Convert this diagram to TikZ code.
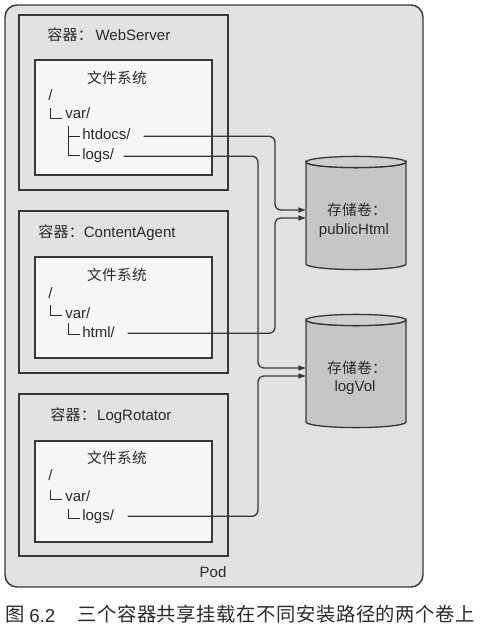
\documentclass[tikz,border=0pt]{standalone}
\usepackage{fontspec}
\setmainfont{Liberation Sans}
\newfontfamily\cjk[LetterSpace=2]{Noto Sans CJK SC}
\newfontfamily\cjkcap[LetterSpace=3]{Noto Sans CJK SC}
\usetikzlibrary{arrows.meta}
\definecolor{podfill}{HTML}{E2E2E2}
\definecolor{fsfill}{HTML}{F6F6F6}
\definecolor{volfill}{HTML}{C6C6C6}
\definecolor{volend}{HTML}{CFCFCF}
\definecolor{ink}{HTML}{383838}
\definecolor{txtc}{HTML}{2A2A2A}
\begin{document}
\begin{tikzpicture}[x=0.75pt,y=-0.75pt,
  lat/.style={font=\fontsize{11.25}{13}\selectfont, text=txtc, inner sep=0pt, anchor=base west},
  ctr/.style={lat, anchor=base},
  pathtxt/.style={lat, text height=7.9pt, text depth=2.25pt},
  cjkt/.style={font=\fontsize{11}{13}\selectfont\cjk, text=txtc, inner sep=0pt, anchor=base},
  podbox/.style={draw=ink, line width=1.1pt, fill=podfill, rounded corners=9pt},
  ctbox/.style={draw=ink, line width=1pt, fill=podfill},
  fsbox/.style={draw=ink, line width=1pt, fill=fsfill},
  treeline/.style={draw=txtc, line width=0.75pt},
  volbox/.style={rectangle, inner sep=0pt, minimum width=75pt, minimum height=85.5pt},
  volbody/.style={draw=ink, line width=1pt, fill=volfill},
  volcap/.style={draw=ink, line width=1pt, fill=volend},
  conn/.style={draw=ink, line width=1pt, rounded corners=4.5pt, -{Triangle[length=5.5pt,width=3.8pt]}}
]
\useasboundingbox[fill=white] (0,0) rectangle (479,630);

% Pod
\draw[podbox] (5,5) rectangle (423,587);
\node[ctr] (podlbl) at (213,577) {Pod};

% Containers
\draw[ctbox] (19,15) rectangle (228,190);
\draw[fsbox] (35,60) rectangle (212,175);
\draw[ctbox] (19,211) rectangle (228,373);
\draw[fsbox] (35,257) rectangle (212,358);
\draw[ctbox] (19,394) rectangle (228,556);
\draw[fsbox] (35,441) rectangle (212,542);

% WebServer
\node[lat] (wst) at (47,40.5) {{\cjk 容器：}\hspace{2pt}WebServer};
\node[cjkt] (wsfs) at (117,83.5) {文件系统};
\node[lat] (wsroot) at (48,101) {/};
\node[lat] (wsvar) at (65,119) {var/};
\node[pathtxt] (wshtdocs) at (82,140) {htdocs/};
\node[pathtxt] (wslogs) at (82,160) {logs/};
\draw[treeline] (50,108) |- (62,119);
\draw[treeline] (68,126) |- (80,156);
\draw[treeline] (68,137) -- (80,137);

% ContentAgent
\node[lat] (cat) at (38,237.5) {{\cjk 容器：}ContentAgent};
\node[cjkt] (cafs) at (117,280.5) {文件系统};
\node[lat] (caroot) at (48,298) {/};
\node[lat] (cavar) at (65,318) {var/};
\node[pathtxt] (cahtml) at (82,337) {html/};
\draw[treeline] (50,305) |- (62,315);
\draw[treeline] (68,323) |- (80,334);

% LogRotator
\node[lat] (lrt) at (50,420.5) {{\cjk 容器：}\hspace{1pt}LogRotator};
\node[cjkt] (lrfs) at (117,463.5) {文件系统};
\node[lat] (lrroot) at (48,480) {/};
\node[lat] (lrvar) at (65,501) {var/};
\node[pathtxt] (lrlogs) at (82,520) {logs/};
\draw[treeline] (50,490) |- (62,499);
\draw[treeline] (68,509) |- (80,518);

% Volumes
\node[volbox] (pubvol) at (356,213) {};
\node[volbox] (logvol) at (356,371) {};
\path[volbody] (306,162) -- (306,264) arc[start angle=180, end angle=360, x radius=37.5pt, y radius=4.2pt]
  -- (406,162) arc[start angle=0, end angle=-180, x radius=37.5pt, y radius=4.2pt] -- cycle;
\path[volcap] (356,162) ellipse[x radius=37.5pt, y radius=4.2pt];
\path[volbody] (306,320) -- (306,422) arc[start angle=180, end angle=360, x radius=37.5pt, y radius=4.2pt]
  -- (406,320) arc[start angle=0, end angle=-180, x radius=37.5pt, y radius=4.2pt] -- cycle;
\path[volcap] (356,320) ellipse[x radius=37.5pt, y radius=4.2pt];
\node[cjkt] (publbl1) at (357,215.5) {存储卷：};
\node[ctr] (publbl2) at (354,235) {publicHtml};
\node[cjkt] (loglbl1) at (357,373.5) {存储卷：};
\node[ctr] (loglbl2) at (355,391) {logVol};

% Routing
\coordinate (colA) at (275,0);
\coordinate (colB) at (258,0);
\coordinate (pubA) at ([yshift=2.25pt]pubvol.west);
\coordinate (pubB) at ([yshift=-3.75pt]pubvol.west);
\coordinate (logA) at ([yshift=2.25pt]logvol.west);
\coordinate (logB) at ([yshift=-3.75pt]logvol.west);

\draw[conn] ([xshift=9.5pt]wshtdocs.east) -| (colA |- pubA) -- (pubA);
\draw[conn] ([xshift=7pt]wslogs.east) -| (colB |- logA) -- (logA);
\draw[conn] ([xshift=9.4pt]cahtml.east) -| (colA |- pubB) -- (pubB);
\draw[conn] ([xshift=10pt]lrlogs.east) -| (colB |- logB) -- (logB);

% Caption
\node[font=\fontsize{14.5}{17}\selectfont\cjkcap, text=txtc, inner sep=0pt, anchor=base west] (capfig) at (5,621.5) {图};
\node[font=\fontsize{14}{17}\selectfont, text=txtc, inner sep=0pt, anchor=base west] (capnum) at (29,622) {6.2};
\node[font=\fontsize{14.5}{17}\selectfont\cjkcap, text=txtc, inner sep=0pt, anchor=base west] (captext) at (77,621.5) {三个容器共享挂载在不同安装路径的两个卷上};
\end{tikzpicture}
\end{document}
